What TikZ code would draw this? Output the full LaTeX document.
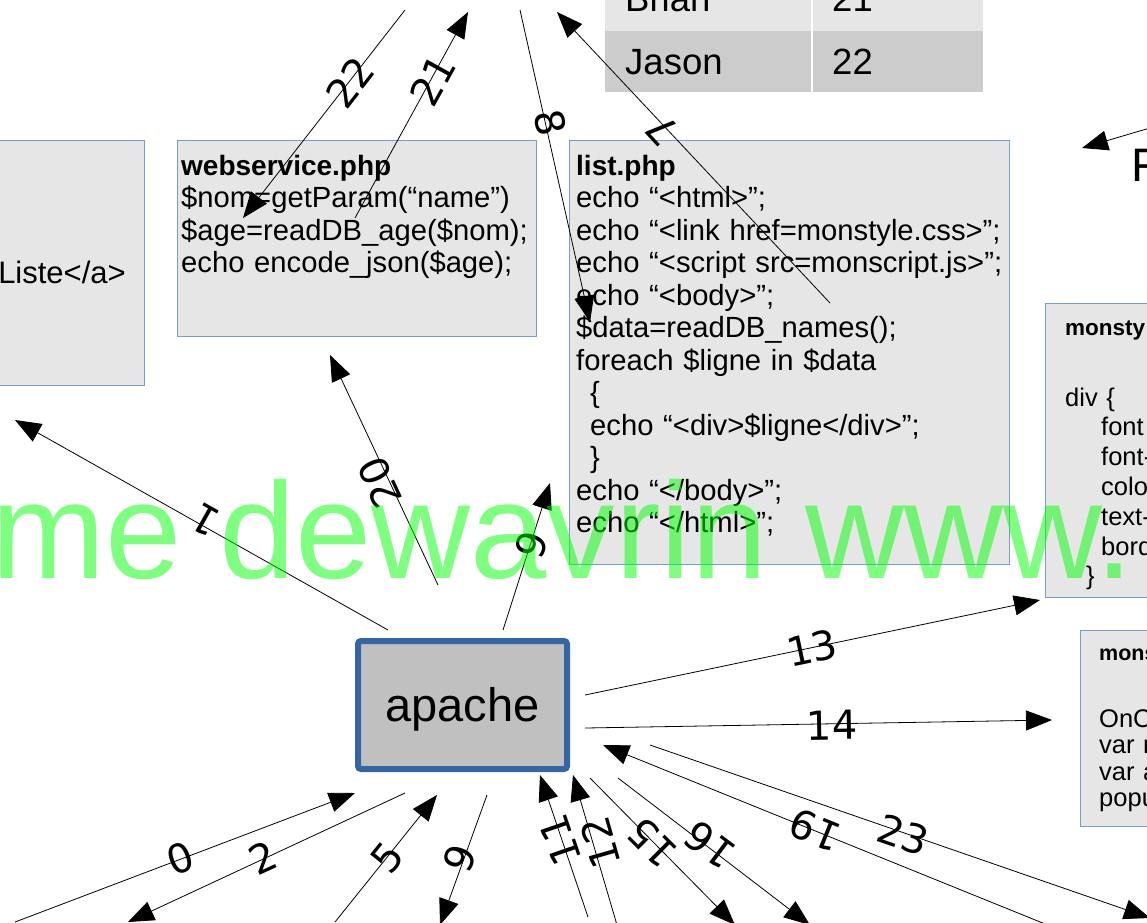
\documentclass[tikz,border=0pt]{standalone}
\usepackage{fontspec}
\setmainfont{Liberation Sans}
\newfontfamily\lblfont{DejaVu Sans}
\usetikzlibrary{arrows.meta}
\definecolor{boxfill}{RGB}{230,230,230}
\definecolor{boxline}{RGB}{114,159,207}
\definecolor{apblue}{RGB}{52,101,164}
\definecolor{apfill}{RGB}{192,192,192}
\definecolor{rowa}{RGB}{230,230,230}
\definecolor{rowb}{RGB}{204,204,204}
\definecolor{wm}{RGB}{0,255,0}
\newcommand{\codetitle}[1]{{\fontsize{28}{32.5}\selectfont\bfseries #1}}
\begin{document}
\begin{tikzpicture}[x=1pt,y=-1pt,
  conn/.style={draw=black, line width=0.8pt, -{Triangle[length=26pt,width=20pt]}},
  lbl/.style={font=\lblfont\fontsize{40}{40}\selectfont, inner sep=0pt},
  filebox/.style={draw=boxline, line width=1pt, fill=boxfill, anchor=north west, inner sep=0pt},
  codetext/.style={anchor=base west, align=left, inner sep=0pt, text width=540pt, font=\fontsize{29.2}{32.5}\selectfont},
  smalltext/.style={anchor=base west, align=left, inner sep=0pt, text width=200pt, font=\fontsize{25.5}{29.8}\selectfont},
  smallbold/.style={anchor=base west, inner sep=0pt, font=\bfseries\fontsize{21.5}{24}\selectfont},
  cell/.style={anchor=north west, inner sep=0pt, minimum width=378pt},
  celltext/.style={anchor=base west, inner sep=0pt, font=\fontsize{36.5}{36.5}\selectfont}
]
\useasboundingbox (0,0) rectangle (1147,922);
\clip (0,0) rectangle (1147,922);

% table
\node[cell, fill=rowa, minimum height=41pt] (row1) at (605,-10) {};
\node[cell, fill=rowb, minimum height=61pt] (row2) at (605,31) {};
\draw[white, line width=2pt] (812,-10) -- (812,92);
\node[celltext] (tB) at (625,11) {Brian};
\node[celltext] (t21) at (832,11) {21};
\node[celltext] (tJ) at (625,74) {Jason};
\node[celltext] (t22) at (832,74) {22};

% F
\node[anchor=base west, inner sep=0pt, font=\fontsize{47}{47}\selectfont] (fx) at (1131,181) {F};

% boxes
\node[filebox, minimum width=164pt, minimum height=245pt] (lbox) at (-20,140) {};
\node[anchor=base east, inner sep=0pt, font=\fontsize{31}{32.5}\selectfont] (ltext) at (126,283) {Liste</a>};

\node[filebox, minimum width=359pt, minimum height=196pt] (ws) at (177,140) {};
\node[codetext] (wstext) at (181,175) {\codetitle{webservice.php}\\
\$nom=getParam(“name”)\\
\$age=readDB\_age(\$nom);\\
echo encode\_json(\$age);};

\node[filebox, minimum width=440pt, minimum height=424pt] (list) at (569,140) {};
\node[codetext] (listtext) at (576,175) {\codetitle{list.php}\\
echo “<html>”;\\
echo “<link href=monstyle.css>”;\\
echo “<script src=monscript.js>”;\\
echo “<body>”;\\
\$data=readDB\_names();\\
foreach \$ligne in \$data\\
\hspace*{14pt}\{\\
\hspace*{14pt}echo “<div>\$ligne</div>”;\\
\hspace*{14pt}\}\\
echo “</body>”;\\
echo “</html>”;};

\node[filebox, minimum width=200pt, minimum height=294pt] (css) at (1045,303) {};
\node[smallbold, font=\bfseries\fontsize{22.5}{24}\selectfont] (csstitle) at (1065,335) {monsty};
\node[smalltext] (csstext) at (1065,406) {div \{\\
\hspace*{36pt}font\\
\hspace*{36pt}font-\\
\hspace*{36pt}colo\\
\hspace*{36pt}text-\\
\hspace*{36pt}bord\\
\hspace*{21pt}\}};

\node[filebox, minimum width=200pt, minimum height=196pt] (js) at (1080,630) {};
\node[smallbold] (jstitle) at (1099,660) {mons};
\node[smalltext, font=\fontsize{25.5}{26.5}\selectfont] (jstext) at (1099,727) {OnC\\var n\\var a\\popu};

% apache
\node[draw=apblue, line width=6pt, fill=apfill, rounded corners=3pt, minimum width=209pt, minimum height=128pt, inner sep=0pt] (apache) at (462.5,705) {};
\node[inner sep=0pt, font=\fontsize{47}{47}\selectfont] (aptext) at (462.5,709) {apache};

% connector end points
\coordinate (a22) at (405,10);   \coordinate (b22) at (243,218);
\coordinate (a21) at (355,218);  \coordinate (b21) at (468,12);
\coordinate (a8) at (520,10);    \coordinate (b8) at (590,322);
\coordinate (a7) at (830,303);   \coordinate (b7) at (557,12);
\coordinate (aF) at (1160,125);  \coordinate (bF) at (1082,148);
\coordinate (a1) at (388,630);   \coordinate (b1) at (15,420);
\coordinate (a20) at (438,585);  \coordinate (b20) at (330,355);
\coordinate (a9) at (503,630);   \coordinate (b9) at (550,483);
\coordinate (a13) at (585,695);  \coordinate (b13) at (1040,600);
\coordinate (a14) at (585,728);  \coordinate (b14) at (1052,720);
\coordinate (a19) at (1060,930); \coordinate (b19) at (603,745);
\coordinate (a23) at (650,745);  \coordinate (b23) at (1150,918);
\coordinate (a0) at (15,922);    \coordinate (b0) at (355,793);
\coordinate (a2) at (405,793);   \coordinate (b2) at (128,922);
\coordinate (a5) at (335,922);   \coordinate (b5) at (437,795);
\coordinate (a6) at (487,795);   \coordinate (b6) at (440,925);
\coordinate (a11) at (588,917);  \coordinate (b11) at (540,775);
\coordinate (a12) at (617,925);  \coordinate (b12) at (573,775);
\coordinate (a15) at (590,778);  \coordinate (b15) at (735,925);
\coordinate (a16) at (618,778);  \coordinate (b16) at (810,925);

\foreach \c in {22,21,8,7,F,1,20,9,13,14,19,23,0,2,5,6,11,12,15,16}
  \draw[conn] (a\c) -- (b\c);

% labels
\node[lbl, rotate=52] (l22) at (350,82) {22};
\node[lbl, rotate=61] (l21) at (433,80) {21};
\node[lbl, rotate=-77.6] (l8) at (550,123) {8};
\node[lbl, rotate=133] (l7) at (662,130) {7};
\node[lbl, rotate=150.6] (l1) at (205,520) {1};
\node[lbl, rotate=115] (l20) at (380,483) {20};
\node[lbl, rotate=72] (l9) at (532,545) {9};
\node[lbl, rotate=11.8] (l13) at (812,648) {13};
\node[lbl, rotate=1] (l14) at (832,725) {14};
\node[lbl, rotate=158] (l19) at (815,830) {19};
\node[lbl, rotate=-19] (l23) at (903,835) {23};
\node[lbl, rotate=20.5] (l0) at (180,858) {0};
\node[lbl, rotate=24.6] (l2) at (263,858) {2};
\node[lbl, rotate=51] (l5) at (387,858) {5};
\node[lbl, rotate=-110] (l6) at (460,858) {6};
\node[lbl, rotate=109] (l11) at (560,840) {11};
\node[lbl, rotate=106] (l12) at (600,843) {12};
\node[lbl, rotate=135] (l15) at (652,843) {15};
\node[lbl, rotate=143] (l16) at (710,845) {16};

% watermark
\node[anchor=base west, inner sep=0pt, text=wm, text opacity=0.5, font=\fontsize{137}{137}\selectfont] (wmark) at (-9,578) {me dewavrin www.};
\end{tikzpicture}
\end{document}
